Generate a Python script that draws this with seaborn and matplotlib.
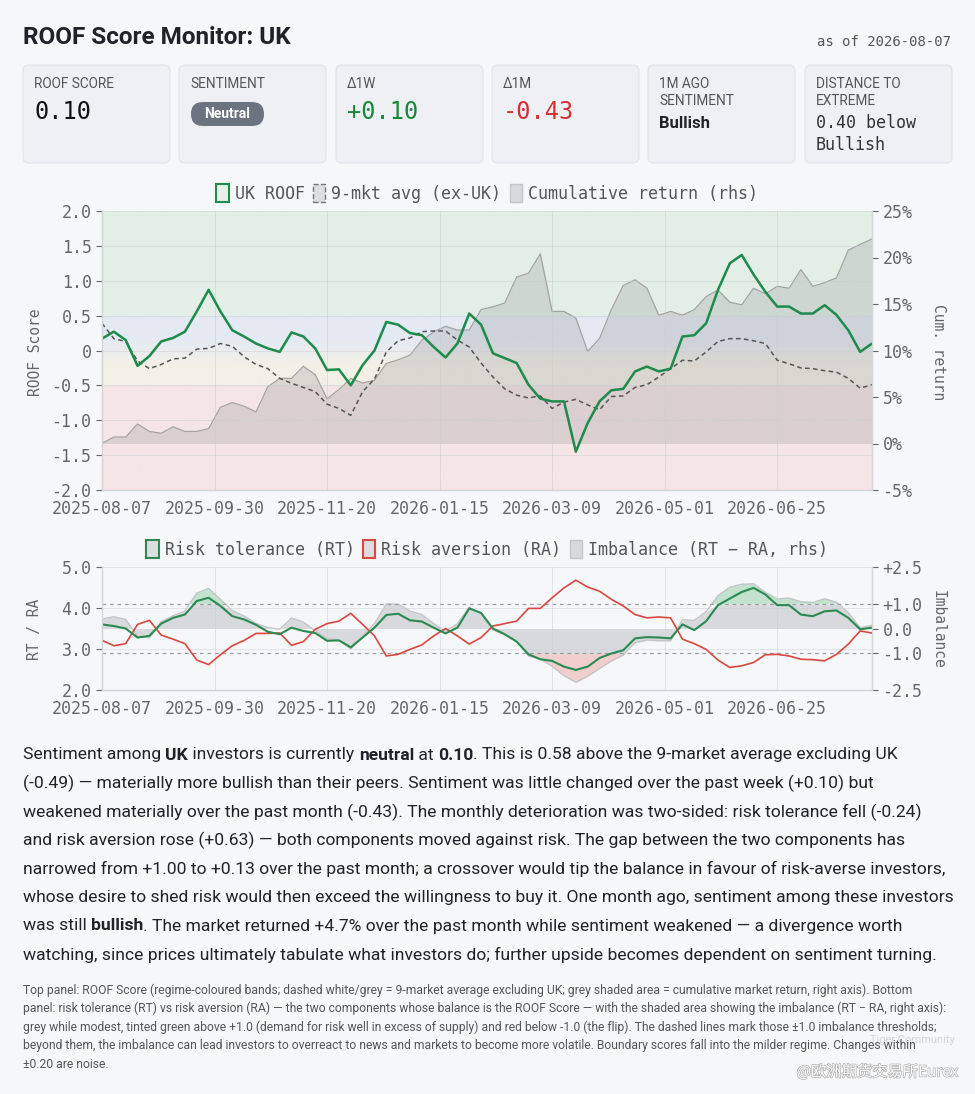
import numpy as np
import pandas as pd
import matplotlib
matplotlib.use("Agg")
import matplotlib.pyplot as plt
import seaborn as sns
from matplotlib.patches import FancyBboxPatch, Patch
import matplotlib.patheffects as pe

# ---- data (every 4th trading day, index 0 = 2025-08-07, 260 = 2026-08-07) ----
day_idx = list(range(0, 261, 4))

uk_roof = [0.17, 0.27, 0.15, -0.22, -0.08, 0.13, 0.18, 0.27, 0.56, 0.87,
           0.56, 0.29, 0.20, 0.10, 0.03, -0.02, 0.26, 0.20, 0.03, -0.28,
           -0.27, -0.50, -0.21, 0.00, 0.41, 0.37, 0.25, 0.22, 0.05, -0.10,
           0.10, 0.53, 0.37, -0.04, -0.11, -0.18, -0.49, -0.69, -0.73, -0.73,
           -1.45, -1.04, -0.73, -0.57, -0.55, -0.30, -0.23, -0.30, -0.26, 0.20,
           0.22, 0.39, 0.87, 1.25, 1.37, 1.09, 0.84, 0.63, 0.63, 0.53,
           0.53, 0.65, 0.51, 0.29, -0.02, 0.10]

avg_ex_uk = [0.39, 0.17, 0.13, -0.15, -0.26, -0.20, -0.12, -0.11, 0.02, 0.03,
             0.10, 0.06, -0.09, -0.20, -0.26, -0.40, -0.47, -0.53, -0.59, -0.77,
             -0.83, -0.93, -0.59, -0.41, -0.02, 0.14, 0.18, 0.27, 0.28, 0.28,
             0.15, 0.05, -0.18, -0.38, -0.55, -0.64, -0.68, -0.65, -0.83, -0.74,
             -0.70, -0.78, -0.85, -0.66, -0.65, -0.53, -0.49, -0.38, -0.26, -0.14,
             -0.15, -0.02, 0.13, 0.17, 0.17, 0.14, 0.10, -0.14, -0.19, -0.25,
             -0.26, -0.29, -0.31, -0.40, -0.54, -0.49]

cum_return = [0.0, 0.7, 0.7, 2.1, 1.3, 1.1, 1.8, 1.3, 1.3, 1.6,
              3.9, 4.4, 4.0, 3.4, 6.1, 7.0, 7.0, 8.3, 7.4, 4.8,
              5.8, 7.0, 6.5, 6.8, 8.6, 9.0, 9.5, 11.1, 12.0, 12.6,
              12.2, 12.2, 14.4, 14.7, 15.1, 17.9, 18.3, 20.4, 14.2, 14.2,
              13.5, 9.9, 11.3, 14.4, 17.0, 17.6, 16.7, 13.8, 14.2, 13.8,
              14.4, 15.8, 16.5, 15.2, 14.9, 16.7, 16.1, 16.9, 16.7, 18.7,
              16.9, 17.3, 17.8, 20.8, 21.4, 22.0]

risk_tol = [3.60, 3.56, 3.50, 3.28, 3.32, 3.62, 3.76, 3.84, 4.17, 4.25,
            4.05, 3.80, 3.72, 3.59, 3.42, 3.36, 3.52, 3.44, 3.39, 3.20,
            3.21, 3.04, 3.28, 3.52, 3.83, 3.86, 3.70, 3.67, 3.52, 3.38,
            3.52, 3.99, 3.88, 3.50, 3.36, 3.18, 2.87, 2.75, 2.71, 2.57,
            2.49, 2.57, 2.78, 2.89, 2.97, 3.26, 3.29, 3.28, 3.26, 3.60,
            3.46, 3.68, 4.07, 4.23, 4.39, 4.49, 4.33, 4.07, 4.07, 3.84,
            3.80, 3.92, 3.94, 3.76, 3.48, 3.52]

risk_av = [3.21, 3.08, 3.13, 3.60, 3.70, 3.34, 3.24, 3.13, 2.73, 2.62,
           2.86, 3.08, 3.21, 3.38, 3.38, 3.39, 3.09, 3.18, 3.48, 3.62,
           3.68, 3.87, 3.60, 3.32, 2.83, 2.87, 2.99, 3.10, 3.32, 3.50,
           3.32, 3.12, 3.28, 3.56, 3.62, 3.68, 3.99, 3.99, 4.25, 4.49,
           4.68, 4.51, 4.41, 4.21, 4.05, 3.84, 3.76, 3.78, 3.76, 3.24,
           3.13, 2.99, 2.73, 2.55, 2.59, 2.67, 2.86, 2.87, 2.83, 2.75,
           2.74, 2.71, 2.87, 3.12, 3.44, 3.39]

tick_pos = [0, 38, 76, 114, 152, 190, 228]
tick_labels = ["2025-08-07", "2025-09-30", "2025-11-20", "2026-01-15",
               "2026-03-09", "2026-05-01", "2026-06-25"]

cards = [("ROOF SCORE", "0.10"), ("SENTIMENT", "Neutral"), ("Δ1W", "+0.10"),
         ("Δ1M", "-0.43"), ("1M AGO\nSENTIMENT", "Bullish"),
         ("DISTANCE TO\nEXTREME", "0.40 below\nBullish")]

df = pd.DataFrame({"day": day_idx, "uk": uk_roof, "avg": avg_ex_uk,
                   "cum": cum_return, "rt": risk_tol, "ra": risk_av})
df["imb"] = df["rt"] - df["ra"]

# ---- styling ----
W, H = 975, 1094
BG = "#f6f7f9"
GREEN = "#1e8a4c"
RED = "#d9473f"
MONO = ["DejaVu Sans Mono"]
COND = ["Roboto", "DejaVu Sans"]
TXT = "#1f2328"

sns.set_theme(style="white")
plt.rcParams["font.family"] = ["Roboto", "DejaVu Sans", "Noto Sans CJK SC"]

fig = plt.figure(figsize=(W / 100, H / 100), dpi=100, facecolor=BG)
bg = fig.add_axes([0, 0, 1, 1])
bg.set_xlim(0, W)
bg.set_ylim(H, 0)
bg.axis("off")
renderer = fig.canvas.get_renderer()


def px_axes(x0, y0, x1, y1):
    return fig.add_axes([x0 / W, 1 - y1 / H, (x1 - x0) / W, (y1 - y0) / H])


def style_axes(a):
    a.set_facecolor("none")
    for s in ["left", "bottom", "right"]:
        a.spines[s].set_color("#d3d6db")
        a.spines[s].set_linewidth(0.9)
    a.spines["top"].set_visible(False)
    a.tick_params(labelsize=12, colors="#666", length=4, width=0.8)
    for lab in a.get_xticklabels() + a.get_yticklabels():
        lab.set_family(MONO)


# ---- header ----
bg.text(23, 38, "ROOF Score Monitor: UK", fontsize=17.5, fontweight="bold",
        color=TXT, va="center", family=COND)
bg.text(951, 42, "as of 2026-08-07", fontsize=10, color="#555", va="center",
        ha="right", family=MONO)

card_x = [23, 179, 336, 492, 648, 805]
for cx, (lab, val) in zip(card_x, cards):
    bg.add_patch(FancyBboxPatch((cx, 65), 147, 98,
                                boxstyle="round,pad=0,rounding_size=6",
                                fc="#eef0f3", ec="#e1e4e8", lw=0.8))
    bg.text(cx + 11, 77.5, lab, fontsize=9.8, color="#555", va="top",
            linespacing=1.2, family=COND)

bg.text(34, 112, "0.10", fontsize=17, color="#111", va="center", family=MONO)
bg.add_patch(FancyBboxPatch((191, 102), 73, 24,
                            boxstyle="round,pad=0,rounding_size=12",
                            fc="#6b7280", ec="none"))
bg.text(227.5, 114.5, "Neutral", fontsize=10, fontweight="bold", color="white",
        ha="center", va="center", family=COND)
bg.text(347, 112, "+0.10", fontsize=17, color="#17883a", va="center", family=MONO)
bg.text(503, 112, "-0.43", fontsize=17, color="#d62f2f", va="center", family=MONO)
bg.text(659, 123, "Bullish", fontsize=12, fontweight="bold", color=TXT,
        va="center", family=COND)
bg.text(816, 123, "0.40 below", fontsize=12, color="#333", va="center", family=MONO)
bg.text(816, 145, "Bullish", fontsize=12, color="#333", va="center", family=MONO)

# ---- top panel ----
ax = px_axes(102, 211, 872, 490)
ax_r = ax.twinx()
ax.set_zorder(ax_r.get_zorder() + 1)
ax.patch.set_visible(False)
ax_r.set_facecolor("none")

# regime bands (drawn under the return area, in ROOF units)
vals = np.linspace(2, -2, 801)
stops = [-2.0, -0.5, -0.499, -0.2, 0.15, 0.5, 0.501, 2.0]
cols = np.array([[245, 229, 230], [245, 229, 230], [243, 240, 230], [243, 240, 230],
                 [228, 234, 243], [228, 234, 243], [227, 239, 230], [227, 239, 230]]) / 255
band = np.stack([np.interp(vals, stops, cols[:, k]) for k in range(3)], axis=-1)
band = np.repeat(band[:, None, :], 2, axis=1)
ax_r.imshow(band, extent=(0, 260, -2, 2), aspect="auto", transform=ax.transData,
            zorder=0, interpolation="bilinear")

ax_r.fill_between(df["day"], 0, df["cum"], color="#8a8a8a", alpha=0.24, lw=0, zorder=1)
ax_r.plot(df["day"], df["cum"], color="#a3a3a3", lw=0.9, zorder=2)
ax_r.set_ylim(-5, 25)
ax_r.set_yticks([-5, 0, 5, 10, 15, 20, 25])
ax_r.set_yticklabels(["-5%", "0%", "5%", "10%", "15%", "20%", "25%"])

sns.lineplot(data=df, x="day", y="avg", ax=ax, color="#555", lw=1.1,
             linestyle=(0, (3, 2.2)))
sns.lineplot(data=df, x="day", y="uk", ax=ax, color=GREEN, lw=1.8)
ax.set_ylim(-2, 2)
ax.set_xlim(0, 260)
ax.set_yticks(np.arange(-2, 2.01, 0.5))
ax.set_yticklabels(["-2.0", "-1.5", "-1.0", "-0.5", "0", "0.5", "1.0", "1.5", "2.0"])
ax.set_xticks(tick_pos)
ax.set_xticklabels(tick_labels)
ax.set_xlabel("")
ax.set_ylabel("")
ax.grid(True, color="#c9ccd2", lw=0.6, alpha=0.55)
style_axes(ax)
style_axes(ax_r)
ax_r.tick_params(axis="x", length=0)

top_handles = [Patch(fc="#e8efe9", ec=GREEN, lw=1.5, label="UK ROOF"),
               Patch(fc="#dcdddf", ec="#777", lw=1.0, ls="--", label="9-mkt avg (ex-UK)"),
               Patch(fc="#d8d9dc", ec="#c4c5c8", lw=1.0, label="Cumulative return (rhs)")]
ax.legend(handles=top_handles, loc="lower center", bbox_to_anchor=(0.5, 1.0), ncol=3,
          frameon=False, prop={"family": MONO, "size": 12}, handlelength=0.75,
          handleheight=1.25, handletextpad=0.35, columnspacing=0.5,
          labelcolor="#555", borderaxespad=0.1)

# ---- bottom panel ----
axb = px_axes(102, 567, 872, 690)
axb_r = axb.twinx()
axb.set_zorder(axb_r.get_zorder() + 1)
axb.patch.set_visible(False)
axb_r.set_facecolor("none")

imb = df["imb"].to_numpy()
axb_r.fill_between(df["day"], 0, np.clip(imb, -1, 1), color="#c3c5c9", alpha=0.6, lw=0)
axb_r.fill_between(df["day"], 1, imb, where=imb > 1, interpolate=True,
                   color="#62bb80", alpha=0.35, lw=0)
axb_r.fill_between(df["day"], -1, imb, where=imb < -1, interpolate=True,
                   color="#e2827b", alpha=0.35, lw=0)
axb_r.plot(df["day"], imb, color="#c2c3c6", lw=0.9)
for lvl in (1.0, -1.0):
    axb_r.axhline(lvl, color="#9a9da3", lw=0.9, ls=(0, (3, 3)))
axb_r.set_ylim(-2.5, 2.5)
axb_r.set_yticks([-2.5, -1.0, 0.0, 1.0, 2.5])
axb_r.set_yticklabels(["-2.5", "-1.0", "0.0", "+1.0", "+2.5"])

sns.lineplot(data=df, x="day", y="ra", ax=axb, color=RED, lw=1.2)
sns.lineplot(data=df, x="day", y="rt", ax=axb, color="#2b8a52", lw=1.5)
axb.set_ylim(2, 5)
axb.set_xlim(0, 260)
axb.set_yticks([2, 3, 4, 5])
axb.set_yticklabels(["2.0", "3.0", "4.0", "5.0"])
axb.set_xticks(tick_pos)
axb.set_xticklabels(tick_labels)
axb.set_xlabel("")
axb.set_ylabel("")
axb.grid(True, color="#c9ccd2", lw=0.6, alpha=0.55)
style_axes(axb)
style_axes(axb_r)
axb_r.tick_params(axis="x", length=0)

bot_handles = [Patch(fc="#dcdddf", ec="#2b8a52", lw=1.5, label="Risk tolerance (RT)"),
               Patch(fc="#dcdddf", ec=RED, lw=1.5, label="Risk aversion (RA)"),
               Patch(fc="#d8d9dc", ec="#c4c5c8", lw=1.0, label="Imbalance (RT − RA, rhs)")]
axb.legend(handles=bot_handles, loc="lower center", bbox_to_anchor=(0.5, 1.0), ncol=3,
           frameon=False, prop={"family": MONO, "size": 12}, handlelength=0.75,
           handleheight=1.25, handletextpad=0.35, columnspacing=0.5,
           labelcolor="#555", borderaxespad=0.1)

# axis titles
bg.text(35, 352, "ROOF Score", rotation=90, fontsize=10.5, color="#666",
        ha="center", va="center", family=MONO)
bg.text(938, 352, "Cum. return", rotation=-90, fontsize=10.5, color="#666",
        ha="center", va="center", family=MONO)
bg.text(35, 629, "RT / RA", rotation=90, fontsize=10.5, color="#666",
        ha="center", va="center", family=MONO)
bg.text(938, 629, "Imbalance", rotation=-90, fontsize=10.5, color="#666",
        ha="center", va="center", family=MONO)

# ---- commentary ----
para = [
    [("Sentiment among ", 0), ("UK", 1), (" investors is currently ", 0), ("neutral", 1),
     (" at ", 0), ("0.10", 1), (". This is 0.58 above the 9-market average excluding UK", 0)],
    [("(-0.49) — materially more bullish than their peers. Sentiment was little changed over the past week (+0.10) but", 0)],
    [("weakened materially over the past month (-0.43). The monthly deterioration was two-sided: risk tolerance fell (-0.24)", 0)],
    [("and risk aversion rose (+0.63) — both components moved against risk. The gap between the two components has", 0)],
    [("narrowed from +1.00 to +0.13 over the past month; a crossover would tip the balance in favour of risk-averse investors,", 0)],
    [("whose desire to shed risk would then exceed the willingness to buy it. One month ago, sentiment among these investors", 0)],
    [("was still ", 0), ("bullish", 1), (". The market returned +4.7% over the past month while sentiment weakened — a divergence worth", 0)],
    [("watching, since prices ultimately tabulate what investors do; further upside becomes dependent on sentiment turning.", 0)],
]


def run_widths(runs, size):
    out = []
    for txt, bold in runs:
        t = bg.text(0, 0, txt, fontsize=size, fontweight="bold" if bold else "normal")
        out.append(t.get_window_extent(renderer).width)
        t.remove()
    return out


# fit the widest line to the text column of the reference
base = 12.0
widest = max(sum(run_widths(r, base)) for r in para)
psize = base * 925 / widest

for k, runs in enumerate(para):
    x = 23
    y = 755 + k * 28.5
    for (txt, bold), w in zip(runs, run_widths(runs, psize)):
        bg.text(x, y, txt, fontsize=psize, color=TXT, va="center",
                fontweight="bold" if bold else "normal")
        x += w

foot = [
    "Top panel: ROOF Score (regime-coloured bands; dashed white/grey = 9-market average excluding UK; grey shaded area = cumulative market return, right axis). Bottom",
    "panel: risk tolerance (RT) vs risk aversion (RA) — the two components whose balance is the ROOF Score — with the shaded area showing the imbalance (RT − RA, right axis):",
    "grey while modest, tinted green above +1.0 (demand for risk well in excess of supply) and red below -1.0 (the flip). The dashed lines mark those ±1.0 imbalance thresholds;",
    "beyond them, the imbalance can lead investors to overreact to news and markets to become more volatile. Boundary scores fall into the milder regime. Changes within",
    "±0.20 are noise.",
]
fsize = 8.1 * 922 / sum(run_widths([(foot[1], 0)], 8.1))
for k, line in enumerate(foot):
    bg.text(23, 990 + k * 18.5, line, fontsize=fsize, color="#555", va="center")

# watermark
bg.text(955, 1040, "Tiger Community", fontsize=8, color="#d4d6da", ha="right",
        va="center", zorder=0)
bg.text(958, 1072, "@欧洲期货交易所Eurex", fontsize=11, color="white", ha="right",
        va="center", family=["Noto Sans CJK SC", "DejaVu Sans"],
        path_effects=[pe.withStroke(linewidth=1.0, foreground="#b0b0b0")])

fig.savefig("out.png", dpi=100, facecolor=BG)
